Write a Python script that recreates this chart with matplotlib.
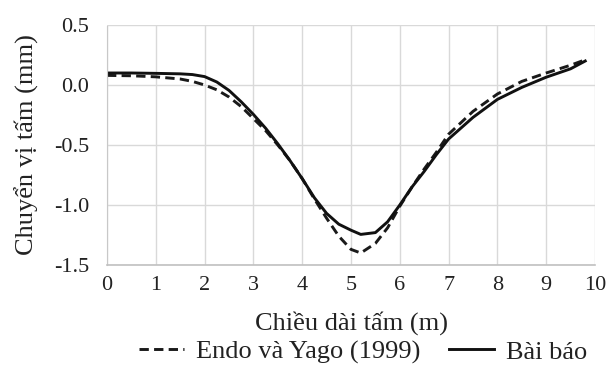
import matplotlib
matplotlib.use("Agg")
import matplotlib.pyplot as plt

x_vals = [0, 0.5, 1, 1.5, 1.75, 2, 2.25, 2.5, 2.75, 3, 3.25, 3.5, 3.75, 4, 4.25, 4.5, 4.75, 5, 5.2,
          5.5, 5.75, 6, 6.25, 6.5, 6.75, 7, 7.5, 8, 8.5, 9, 9.5, 9.8]
bai_bao = [0.10, 0.10, 0.097, 0.093, 0.087, 0.07, 0.025, -0.045, -0.14, -0.245, -0.36, -0.49, -0.63,
           -0.78, -0.94, -1.07, -1.16, -1.21, -1.245, -1.23, -1.14, -1.0, -0.85, -0.72, -0.58,
           -0.45, -0.27, -0.12, -0.02, 0.065, 0.135, 0.20]
endo_yago = [0.08, 0.077, 0.068, 0.05, 0.03, 0.0, -0.04, -0.10, -0.18, -0.28, -0.38, -0.50, -0.63,
             -0.78, -0.95, -1.11, -1.26, -1.37, -1.40, -1.32, -1.19, -1.01, -0.85, -0.70, -0.56,
             -0.41, -0.22, -0.075, 0.03, 0.10, 0.165, 0.21]

x_ticks = [0, 1, 2, 3, 4, 5, 6, 7, 8, 9, 10]
y_ticks = [-1.5, -1.0, -0.5, 0.0, 0.5]

plt.rcParams['font.family'] = ['Liberation Serif', 'DejaVu Serif']
txt = '#222222'

fig = plt.figure(figsize=(6.11, 3.67), dpi=100)
ax = fig.add_axes([107/611, 1-265/367, (595-107)/611, (265-25)/367])

l1, = ax.plot(x_vals, endo_yago, color='#1a1a1a', lw=2.1, dashes=(3.2, 1.8))
l2, = ax.plot(x_vals, bai_bao, color='#111111', lw=2.1)

ax.set_xlim(0, 10)
ax.set_ylim(-1.5, 0.5)
ax.set_xticks(x_ticks)
ax.set_yticks(y_ticks)
ax.set_xticklabels([str(t) for t in x_ticks])
ax.set_yticklabels([f"{t:.1f}" for t in y_ticks])
ax.grid(True, color='#d9d9d9', lw=1.0)
ax.set_axisbelow(True)
for s in ['top', 'right']:
    ax.spines[s].set_visible(False)
ax.spines['left'].set_color('#c8c8c8')
ax.spines['left'].set_linestyle((0, (2, 1)))
ax.spines['bottom'].set_color('#c0c0c0')
ax.spines['bottom'].set_linewidth(1.2)
ax.tick_params(length=0, labelsize=16, colors=txt)
ax.tick_params(axis='y', pad=13)
ax.tick_params(axis='x', pad=8)

fig.text(27/611, 1-145/367, "Chuyển vị tấm (mm)", rotation=90, ha='center', va='center',
         fontsize=19, color=txt)
fig.text(351/611, 1-323/367, "Chiều dài tấm (m)", ha='center', va='center', fontsize=19, color=txt)

fig.legend([l1, l2], ["Endo và Yago (1999)", "Bài báo"], loc='center',
           bbox_to_anchor=(363/611, 1-352/367), ncol=2, frameon=False, fontsize=19,
           handlelength=1.7, columnspacing=1.1, handletextpad=0.45, labelcolor=txt,
           borderpad=0.1)

fig.savefig("out.png", dpi=100)
